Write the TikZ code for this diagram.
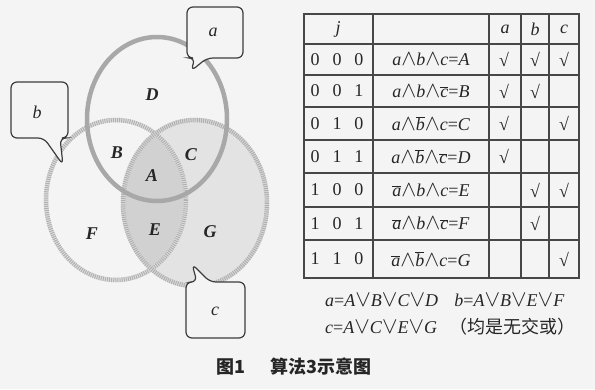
\documentclass[tikz,border=0pt]{standalone}
\usepackage{fontspec}
\usepackage{graphicx}
\setmainfont{Liberation Serif}
\newfontfamily\cjk{Noto Sans CJK SC}
\newcommand\ngt[1]{$\overline{\mbox{\textit{#1}}}$}
\newcommand\wg{\scalebox{1.3}{$\wedge$}}
\newcommand\vv{\scalebox{1.35}{$\vee$}}
\definecolor{ink}{HTML}{262626}
\definecolor{bgc}{HTML}{F4F4F4}
\begin{document}
\begin{tikzpicture}[x=1pt,y=-1pt,
  txt/.style={text=ink,font=\fontsize{18}{21}\selectfont\itshape,inner sep=0pt},
  vlab/.style={text=ink,font=\fontsize{18}{21}\selectfont\bfseries\itshape,inner sep=0pt},
  cell/.style={text=ink,font=\fontsize{18}{21}\selectfont,inner sep=0pt},
  callout/.style={draw=ink!90,line width=1.2pt,rounded corners=6pt,fill=bgc},
  hatch/.style={line width=4.5pt,draw=gray!62,dash pattern=on 1pt off 1.1pt},
  tline/.style={draw=ink!85,line width=1.2pt}]
\fill[bgc] (0,0) rectangle (595,389);
\useasboundingbox (0,0) rectangle (595,389);
% Venn
\fill[gray!22] (195,203) ellipse [x radius=72, y radius=83];
\begin{scope}
  \clip (116,200) ellipse [x radius=70, y radius=80];
  \fill[gray!36] (195,203) ellipse [x radius=72, y radius=83];
\end{scope}
\draw[line width=4.5pt,gray!25] (116,200) ellipse [x radius=70, y radius=80];
\draw[hatch] (116,200) ellipse [x radius=70, y radius=80];
\draw[line width=4.5pt,gray!30] (195,203) ellipse [x radius=72, y radius=83];
\draw[hatch] (195,203) ellipse [x radius=72, y radius=83];
\draw[line width=4.5pt,gray!68] (157,119) ellipse [x radius=70, y radius=82];
\node[vlab] (lD) at (152,95) {D};
\node[vlab] (lB) at (117,153) {B};
\node[vlab] (lC) at (191,155) {C};
\node[vlab] (lA) at (152,176) {A};
\node[vlab] (lF) at (92,234) {F};
\node[vlab] (lE) at (155,230) {E};
\node[vlab] (lG) at (210,232) {G};
% callouts
\draw[callout] (195,58) -- (191,71) -- (207,58) -- (243,58) -- (243,7) -- (187,7) -- (187,58) -- cycle;
\node[txt] (ca) at (213,32) {a};
\draw[callout] (44,138) -- (63,165) -- (60,138) -- (68,138) -- (68,82) -- (11,82) -- (11,138) -- cycle;
\node[txt] (cb) at (37,112) {b};
\draw[callout] (197,282) -- (192,264) -- (210,282) -- (245,282) -- (245,338) -- (186,338) -- (186,282) -- cycle;
\node[txt] (cc) at (215,311) {c};
% table
\draw[tline] (304,14) rectangle (579,278);
\foreach \yy in {44,75,107,140,173,207,240}
  \draw[tline] (304,\yy) -- (579,\yy);
\foreach \xx in {373,489,521,549}
  \draw[tline] (\xx,14) -- (\xx,278);
\node[txt] (hj) at (338,29) {j};
\node[txt] (ha) at (505,29) {a};
\node[txt] (hb) at (535,29) {b};
\node[txt] (hc) at (564,29) {c};
\foreach \yy/\dd/\ex/\ka/\kb/\kc [count=\i] in {
  59.5/{0\hspace{0.72em}0\hspace{0.72em}0}/{\textit{a}\wg\textit{b}\wg\textit{c}=\textit{A}}/√/√/√,
  91/{0\hspace{0.72em}0\hspace{0.72em}1}/{\textit{a}\wg\textit{b}\wg\ngt{c}=\textit{B}}/√/√/{},
  123.5/{0\hspace{0.72em}1\hspace{0.72em}0}/{\textit{a}\wg\ngt{b}\wg\textit{c}=\textit{C}}/√/{}/√,
  156.5/{0\hspace{0.72em}1\hspace{0.72em}1}/{\textit{a}\wg\ngt{b}\wg\ngt{c}=\textit{D}}/√/{}/{},
  190/{1\hspace{0.72em}0\hspace{0.72em}0}/{\ngt{a}\wg\textit{b}\wg\textit{c}=\textit{E}}/{}/√/√,
  223.5/{1\hspace{0.72em}0\hspace{0.72em}1}/{\ngt{a}\wg\textit{b}\wg\ngt{c}=\textit{F}}/{}/√/{},
  259/{1\hspace{0.72em}1\hspace{0.72em}0}/{\ngt{a}\wg\ngt{b}\wg\textit{c}=\textit{G}}/{}/{}/√}
{
  \node[cell] (d\i) at (337,\yy) {\dd};
  \node[cell] (e\i) at (431,\yy) {\ex};
  \node[cell] (ka\i) at (504,\yy) {\ka};
  \node[cell] (kb\i) at (535,\yy) {\kb};
  \node[cell] (kc\i) at (564,\yy) {\kc};
}
\node[cell,anchor=west] (f1) at (325,300) {\textit{a}=\textit{A}\vv\textit{B}\vv\textit{C}\vv\textit{D}\hspace{0.9em}\textit{b}=\textit{A}\vv\textit{B}\vv\textit{E}\vv\textit{F}};
\node[cell,anchor=west] (f2) at (325,327) {\textit{c}=\textit{A}\vv\textit{C}\vv\textit{E}\vv\textit{G}\hspace{0.7em}{\cjk （均是无交或）}};
\node[text=ink,inner sep=0pt,font=\fontsize{18}{21}\selectfont\cjk\bfseries] (cap) at (294,367) {图1\hspace{1.4em}算法3示意图};
\end{tikzpicture}
\end{document}
